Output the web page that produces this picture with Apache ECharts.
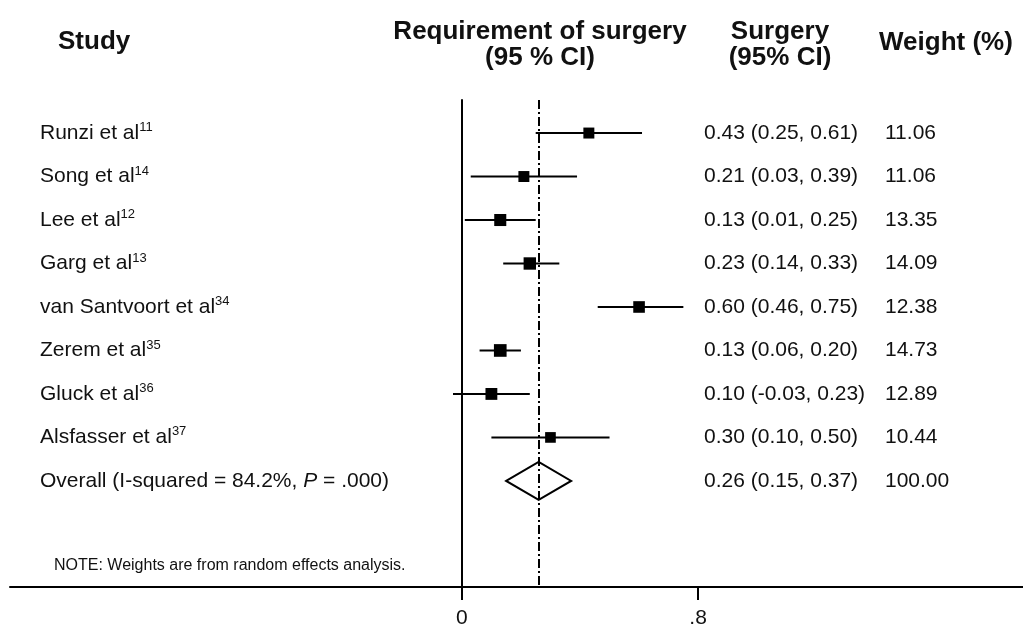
<!DOCTYPE html>
<html>
<head>
    <meta charset="UTF-8">
    <style>
        html, body { margin: 0; padding: 0; background: #fff; }
        #container { width: 1023px; height: 629px; }
    </style>
</head>
<body>
<div id="container"></div>

<script src="https://cdn.jsdelivr.net/npm/echarts@6/dist/echarts.min.js"></script>

<script type="text/javascript">
    // study rows
    var studies = ['Runzi et al', 'Song et al', 'Lee et al', 'Garg et al',
        'van Santvoort et al', 'Zerem et al', 'Gluck et al', 'Alsfasser et al'];
    var refs = ['11', '14', '12', '13', '34', '35', '36', '37'];
    var estimates = [0.43, 0.21, 0.13, 0.23, 0.60, 0.13, 0.10, 0.30];
    var lower = [0.25, 0.03, 0.01, 0.14, 0.46, 0.06, -0.03, 0.10];
    var upper = [0.61, 0.39, 0.25, 0.33, 0.75, 0.20, 0.23, 0.50];
    var weights = [11.06, 11.06, 13.35, 14.09, 12.38, 14.73, 12.89, 10.44];

    // pooled estimate
    var overallCI = [0.26, 0.15, 0.37];   // estimate, lower, upper
    var overallWeight = 100.00;

    // x axis ticks
    var xTicks = [0, 0.8];
    var xTickLabels = ['0', '.8'];

    var FONT = '"Liberation Sans", Arial, Helvetica, sans-serif';
    var INK = '#111';

    function fmt(v) { return v.toFixed(2); }
    function ciText(e, l, u) { return fmt(e) + ' (' + fmt(l) + ', ' + fmt(u) + ')'; }

    var rows = studies.map(function (s, i) {
        return [i, estimates[i], lower[i], upper[i], weights[i]];
    });
    var overallRow = studies.length;

    var dom = document.getElementById('container');
    var myChart = echarts.init(dom, null, { renderer: 'canvas' });

    function renderStudy(params, api) {
        var i = api.value(0);
        var est = api.value(1), lo = api.value(2), hi = api.value(3), w = api.value(4);
        var pLo = api.coord([lo, i]);
        var pHi = api.coord([hi, i]);
        var pE = api.coord([est, i]);
        var s = 3.3 * Math.sqrt(w);
        return {
            type: 'group',
            children: [
                {
                    type: 'line',
                    shape: { x1: pLo[0], y1: pLo[1], x2: pHi[0], y2: pHi[1] },
                    style: { stroke: '#000', lineWidth: 2 }
                },
                {
                    type: 'rect',
                    shape: { x: pE[0] - s / 2, y: pE[1] - s / 2, width: s, height: s },
                    style: { fill: '#000' }
                },
                {
                    type: 'text',
                    x: 40, y: pE[1],
                    style: {
                        text: '{n|' + studies[i] + '}{s|' + refs[i] + '}',
                        verticalAlign: 'middle',
                        rich: {
                            n: { fontFamily: FONT, fontSize: 21, lineHeight: 24, fill: INK },
                            s: { fontFamily: FONT, fontSize: 13, lineHeight: 14, fill: INK, verticalAlign: 'top' }
                        }
                    }
                },
                {
                    type: 'text',
                    x: 704, y: pE[1],
                    style: { text: ciText(est, lo, hi), font: '21px ' + FONT, fill: INK, verticalAlign: 'middle' }
                },
                {
                    type: 'text',
                    x: 885, y: pE[1],
                    style: { text: fmt(w), font: '21px ' + FONT, fill: INK, verticalAlign: 'middle' }
                }
            ]
        };
    }

    function renderOverall(params, api) {
        var i = api.value(0);
        var est = api.value(1), lo = api.value(2), hi = api.value(3), w = api.value(4);
        var pLo = api.coord([lo, i]);
        var pHi = api.coord([hi, i]);
        var pE = api.coord([est, i]);
        var h = 19;
        return {
            type: 'group',
            children: [
                {
                    type: 'polygon',
                    shape: { points: [[pLo[0], pE[1]], [pE[0], pE[1] - h], [pHi[0], pE[1]], [pE[0], pE[1] + h]] },
                    style: { fill: 'rgba(255,255,255,0)', stroke: '#000', lineWidth: 2 }
                },
                {
                    type: 'text',
                    x: 40, y: pE[1],
                    style: {
                        text: '{n|Overall (I-squared = 84.2%, }{i|P}{n| = .000)}',
                        verticalAlign: 'middle',
                        rich: {
                            n: { fontFamily: FONT, fontSize: 21, lineHeight: 24, fill: INK },
                            i: { fontFamily: FONT, fontSize: 21, lineHeight: 24, fill: INK, fontStyle: 'italic' }
                        }
                    }
                },
                {
                    type: 'text',
                    x: 704, y: pE[1],
                    style: { text: ciText(est, lo, hi), font: '21px ' + FONT, fill: INK, verticalAlign: 'middle' }
                },
                {
                    type: 'text',
                    x: 885, y: pE[1],
                    style: { text: fmt(w), font: '21px ' + FONT, fill: INK, verticalAlign: 'middle' }
                }
            ]
        };
    }

    var headerFont = 'bold 26px ' + FONT;

    var option = {
        animation: false,
        backgroundColor: '#fff',
        grid: { left: 10, right: 0, top: 100, bottom: 42 },
        xAxis: {
            type: 'value',
            min: -1.53,
            max: 1.9,
            axisLine: { show: true, onZero: false, lineStyle: { color: '#000', width: 2 } },
            axisTick: {
                show: true,
                customValues: xTicks,
                length: 13,
                lineStyle: { color: '#000', width: 2 }
            },
            axisLabel: {
                show: true,
                customValues: xTicks,
                margin: 21,
                fontFamily: FONT,
                fontSize: 21,
                color: INK,
                formatter: function (v) {
                    var k = xTicks.indexOf(v);
                    return k >= 0 ? xTickLabels[k] : '';
                }
            },
            splitLine: { show: false }
        },
        yAxis: {
            type: 'value',
            inverse: true,
            min: -0.76,
            max: 10.44,
            axisLine: { show: true, onZero: true, lineStyle: { color: '#000', width: 2 } },
            axisTick: { show: false },
            axisLabel: { show: false },
            splitLine: { show: false }
        },
        graphic: [
            { type: 'text', x: 58, y: 42, style: { text: 'Study', font: headerFont, fill: INK, verticalAlign: 'middle' } },
            { type: 'text', x: 540, y: 45, style: { text: 'Requirement of surgery\n(95 % CI)', font: headerFont, lineHeight: 26, fill: INK, align: 'center', verticalAlign: 'middle' } },
            { type: 'text', x: 780, y: 45, style: { text: 'Surgery\n(95% CI)', font: headerFont, lineHeight: 26, fill: INK, align: 'center', verticalAlign: 'middle' } },
            { type: 'text', x: 879, y: 43, style: { text: 'Weight (%)', font: headerFont, fill: INK, verticalAlign: 'middle' } },
            { type: 'text', x: 54, y: 566, style: { text: 'NOTE: Weights are from random effects analysis.', font: '16px ' + FONT, fill: INK, verticalAlign: 'middle' } }
        ],
        series: [
            {
                type: 'custom',
                renderItem: renderStudy,
                data: rows,
                encode: { x: [1, 2, 3], y: 0 },
                markLine: {
                    silent: true,
                    symbol: 'none',
                    label: { show: false },
                    lineStyle: { color: '#000', width: 2, type: [9, 3, 2, 3] },
                    data: [{ xAxis: overallCI[0] }]
                }
            },
            {
                type: 'custom',
                renderItem: renderOverall,
                data: [[overallRow, overallCI[0], overallCI[1], overallCI[2], overallWeight]],
                encode: { x: [1, 2, 3], y: 0 }
            }
        ]
    };

    myChart.setOption(option);
    window.addEventListener('resize', myChart.resize);
</script>

</body>
</html>
